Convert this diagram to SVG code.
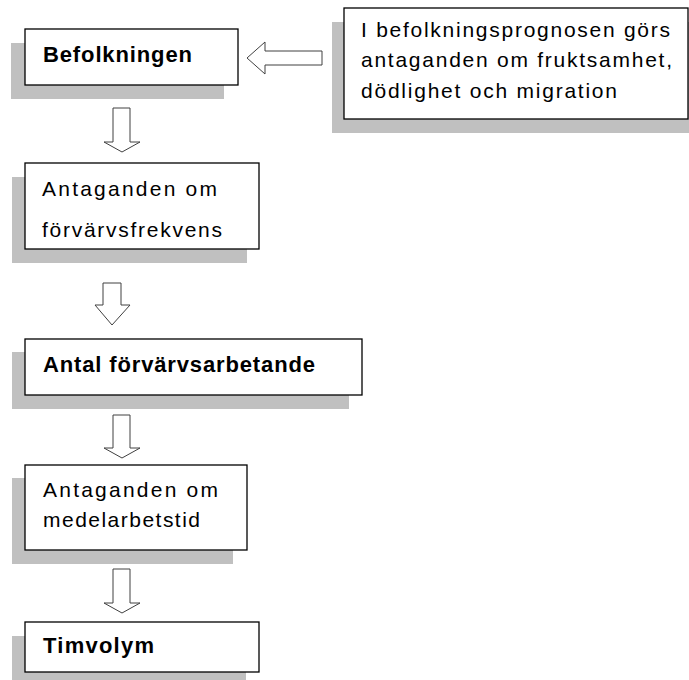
<svg xmlns="http://www.w3.org/2000/svg" width="689" height="680" viewBox="0 0 689 680">
<style>
.shadow{fill:#c0c0c0;stroke:none}
.box{fill:#ffffff;stroke:#000000;stroke-width:1.3}
.arrow{fill:#ffffff;stroke:#404040;stroke-width:1}
.t{font-family:"Liberation Sans",Arial,sans-serif;font-size:21px;fill:#000000}
.b{font-weight:bold;font-size:22px}
</style>
<rect width="689" height="680" fill="#ffffff"/>
<g id="connectors">
<polygon class="arrow" points="322,51 265,51 265,42 247,58 265,74 265,65 322,65"/>
<polygon class="arrow" points="113,108 130,108 130,142 140,142 122,152 104,142 113,142"/>
<polygon class="arrow" points="103,283 121,283 121,305 130,305 112,325 95,305 103,305"/>
<polygon class="arrow" points="113,415 130,415 130,448 140,448 122,458 104,448 113,448"/>
<polygon class="arrow" points="113,569 130,569 130,603 140,603 122,613 104,603 113,603"/>
</g>
<g id="befolkningen">
<rect class="shadow" x="11" y="43" width="213" height="56"/>
<rect class="box" x="25" y="29" width="213" height="56"/>
<text class="t b" x="43" y="62" textLength="149" lengthAdjust="spacing">Befolkningen</text>
</g>
<g id="prognos">
<rect class="shadow" x="332" y="22" width="357" height="111"/>
<rect class="box" x="344" y="8" width="344" height="111"/>
<text class="t" x="361" y="37" textLength="309" lengthAdjust="spacing">I befolkningsprognosen görs</text>
<text class="t" x="361" y="67" textLength="311" lengthAdjust="spacing">antaganden om fruktsamhet,</text>
<text class="t" x="361" y="98" textLength="256" lengthAdjust="spacing">dödlighet och migration</text>
</g>
<g id="forvarvsfrekvens">
<rect class="shadow" x="12" y="177" width="235" height="86"/>
<rect class="box" x="25" y="163" width="234" height="86"/>
<text class="t" x="42" y="196" textLength="175" lengthAdjust="spacing">Antaganden om</text>
<text class="t" x="42" y="237" textLength="180" lengthAdjust="spacing">förvärvsfrekvens</text>
</g>
<g id="forvarvsarbetande">
<rect class="shadow" x="12" y="352" width="337" height="57"/>
<rect class="box" x="25" y="339" width="337" height="56"/>
<text class="t b" x="43" y="372" textLength="272" lengthAdjust="spacing">Antal förvärvsarbetande</text>
</g>
<g id="medelarbetstid">
<rect class="shadow" x="12" y="478" width="221" height="86"/>
<rect class="box" x="25" y="465" width="222" height="85"/>
<text class="t" x="43" y="497" textLength="175" lengthAdjust="spacing">Antaganden om</text>
<text class="t" x="43" y="527" textLength="157" lengthAdjust="spacing">medelarbetstid</text>
</g>
<g id="timvolym">
<rect class="shadow" x="12" y="636" width="234" height="50"/>
<rect class="box" x="25" y="622" width="234" height="50"/>
<text class="t b" x="43" y="653" textLength="111" lengthAdjust="spacing">Timvolym</text>
</g>
</svg>
